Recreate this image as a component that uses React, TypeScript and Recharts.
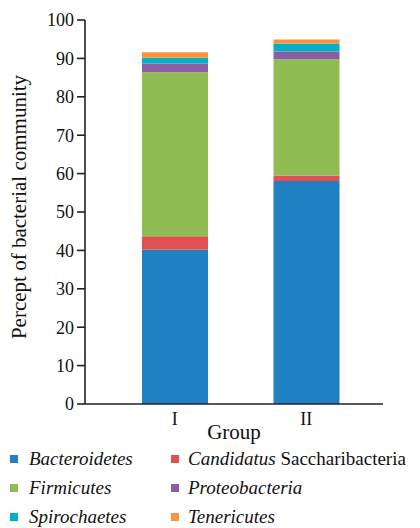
import React from 'react';
import { BarChart, Bar, XAxis, YAxis, Legend, Label } from 'recharts';

const groups = ['I', 'II'];
const phyla = [
  'Bacteroidetes',
  'Candidatus Saccharibacteria',
  'Firmicutes',
  'Proteobacteria',
  'Spirochaetes',
  'Tenericutes',
];
const colors = ['#2180c1', '#e05252', '#8fbd53', '#8b5ea4', '#06adc7', '#f7953f'];
const groupI = [40.2, 3.5, 42.7, 2.3, 1.5, 1.4];
const groupII = [58.1, 1.4, 30.3, 2.0, 2.1, 1.0];
const yTicks = [0, 10, 20, 30, 40, 50, 60, 70, 80, 90, 100];

const keys = phyla.map((_, i) => `p${i}`);
const data = groups.map((g, gi) => {
  const vals = gi === 0 ? groupI : groupII;
  const row: { [k: string]: any } = { group: g };
  keys.forEach((k, i) => { row[k] = vals[i]; });
  return row;
});

const font = '"Liberation Serif", "Times New Roman", serif';

const renderName = (name: string) => {
  if (name.startsWith('Candidatus ')) {
    return (
      <>
        <i>Candidatus</i> {name.slice('Candidatus '.length)}
      </>
    );
  }
  return <i>{name}</i>;
};

const LegendBox = () => (
  <div style={{ position: 'relative', width: 404, height: 78, fontFamily: font, fontSize: 19, color: '#111' }}>
    {phyla.map((name, i) => {
      const col = i % 2;
      const row = Math.floor(i / 2);
      return (
        <div
          key={name}
          style={{
            position: 'absolute',
            left: col === 0 ? 2 : 163,
            top: row * 29 - 6,
            height: 30,
            display: 'flex',
            alignItems: 'center',
            whiteSpace: 'nowrap',
          }}
        >
          <span style={{ display: 'inline-block', width: 8, height: 8, background: colors[i], marginRight: col === 0 ? 11 : 9 }} />
          <span>{renderName(name)}</span>
        </div>
      );
    })}
  </div>
);

export default function App() {
  return (
    <div style={{ width: 404, height: 520 }}>
      <BarChart
        width={404}
        height={520}
        data={data}
        margin={{ top: 12, right: 29, bottom: 0, left: 17 }}
      >
        <XAxis
          dataKey="group"
          height={46}
          tickLine={false}
          tickSize={0}
          tickMargin={8}
          padding={{ left: 24, right: 11 }}
          stroke="#222"
          strokeWidth={1.6}
          tick={{ fill: '#111', fontSize: 18, fontFamily: font }}
        >
          <Label
            content={({ viewBox }: any) => (
              <text
                x={viewBox.x + viewBox.width / 2}
                y={viewBox.y + 35}
                textAnchor="middle"
                fill="#111"
                fontSize={21}
                fontFamily={font}
              >
                Group
              </text>
            )}
          />
        </XAxis>
        <YAxis
          width={60}
          domain={[0, 100]}
          ticks={yTicks}
          interval={0}
          tickSize={8}
          tickMargin={3}
          stroke="#222"
          strokeWidth={1.6}
          tick={{ fill: '#111', fontSize: 18, fontFamily: font }}
        >
          <Label
            content={() => {
              const cx = 11;
              const cy = 199;
              return (
                <text
                  x={cx}
                  y={cy}
                  transform={`rotate(-90 ${cx} ${cy})`}
                  textAnchor="middle"
                  dominantBaseline="central"
                  fill="#111"
                  fontSize={21}
                  fontFamily={font}
                >
                  Percept of bacterial community
                </text>
              );
            }}
          />
        </YAxis>
        <Legend verticalAlign="bottom" align="left" wrapperStyle={{ left: 0, width: 404 }} content={() => <LegendBox />} />
        {keys.map((k, i) => (
          <Bar
            key={k}
            dataKey={k}
            name={phyla[i]}
            stackId="a"
            fill={colors[i]}
            barSize={66}
            isAnimationActive={false}
          />
        ))}
      </BarChart>
    </div>
  );
}
